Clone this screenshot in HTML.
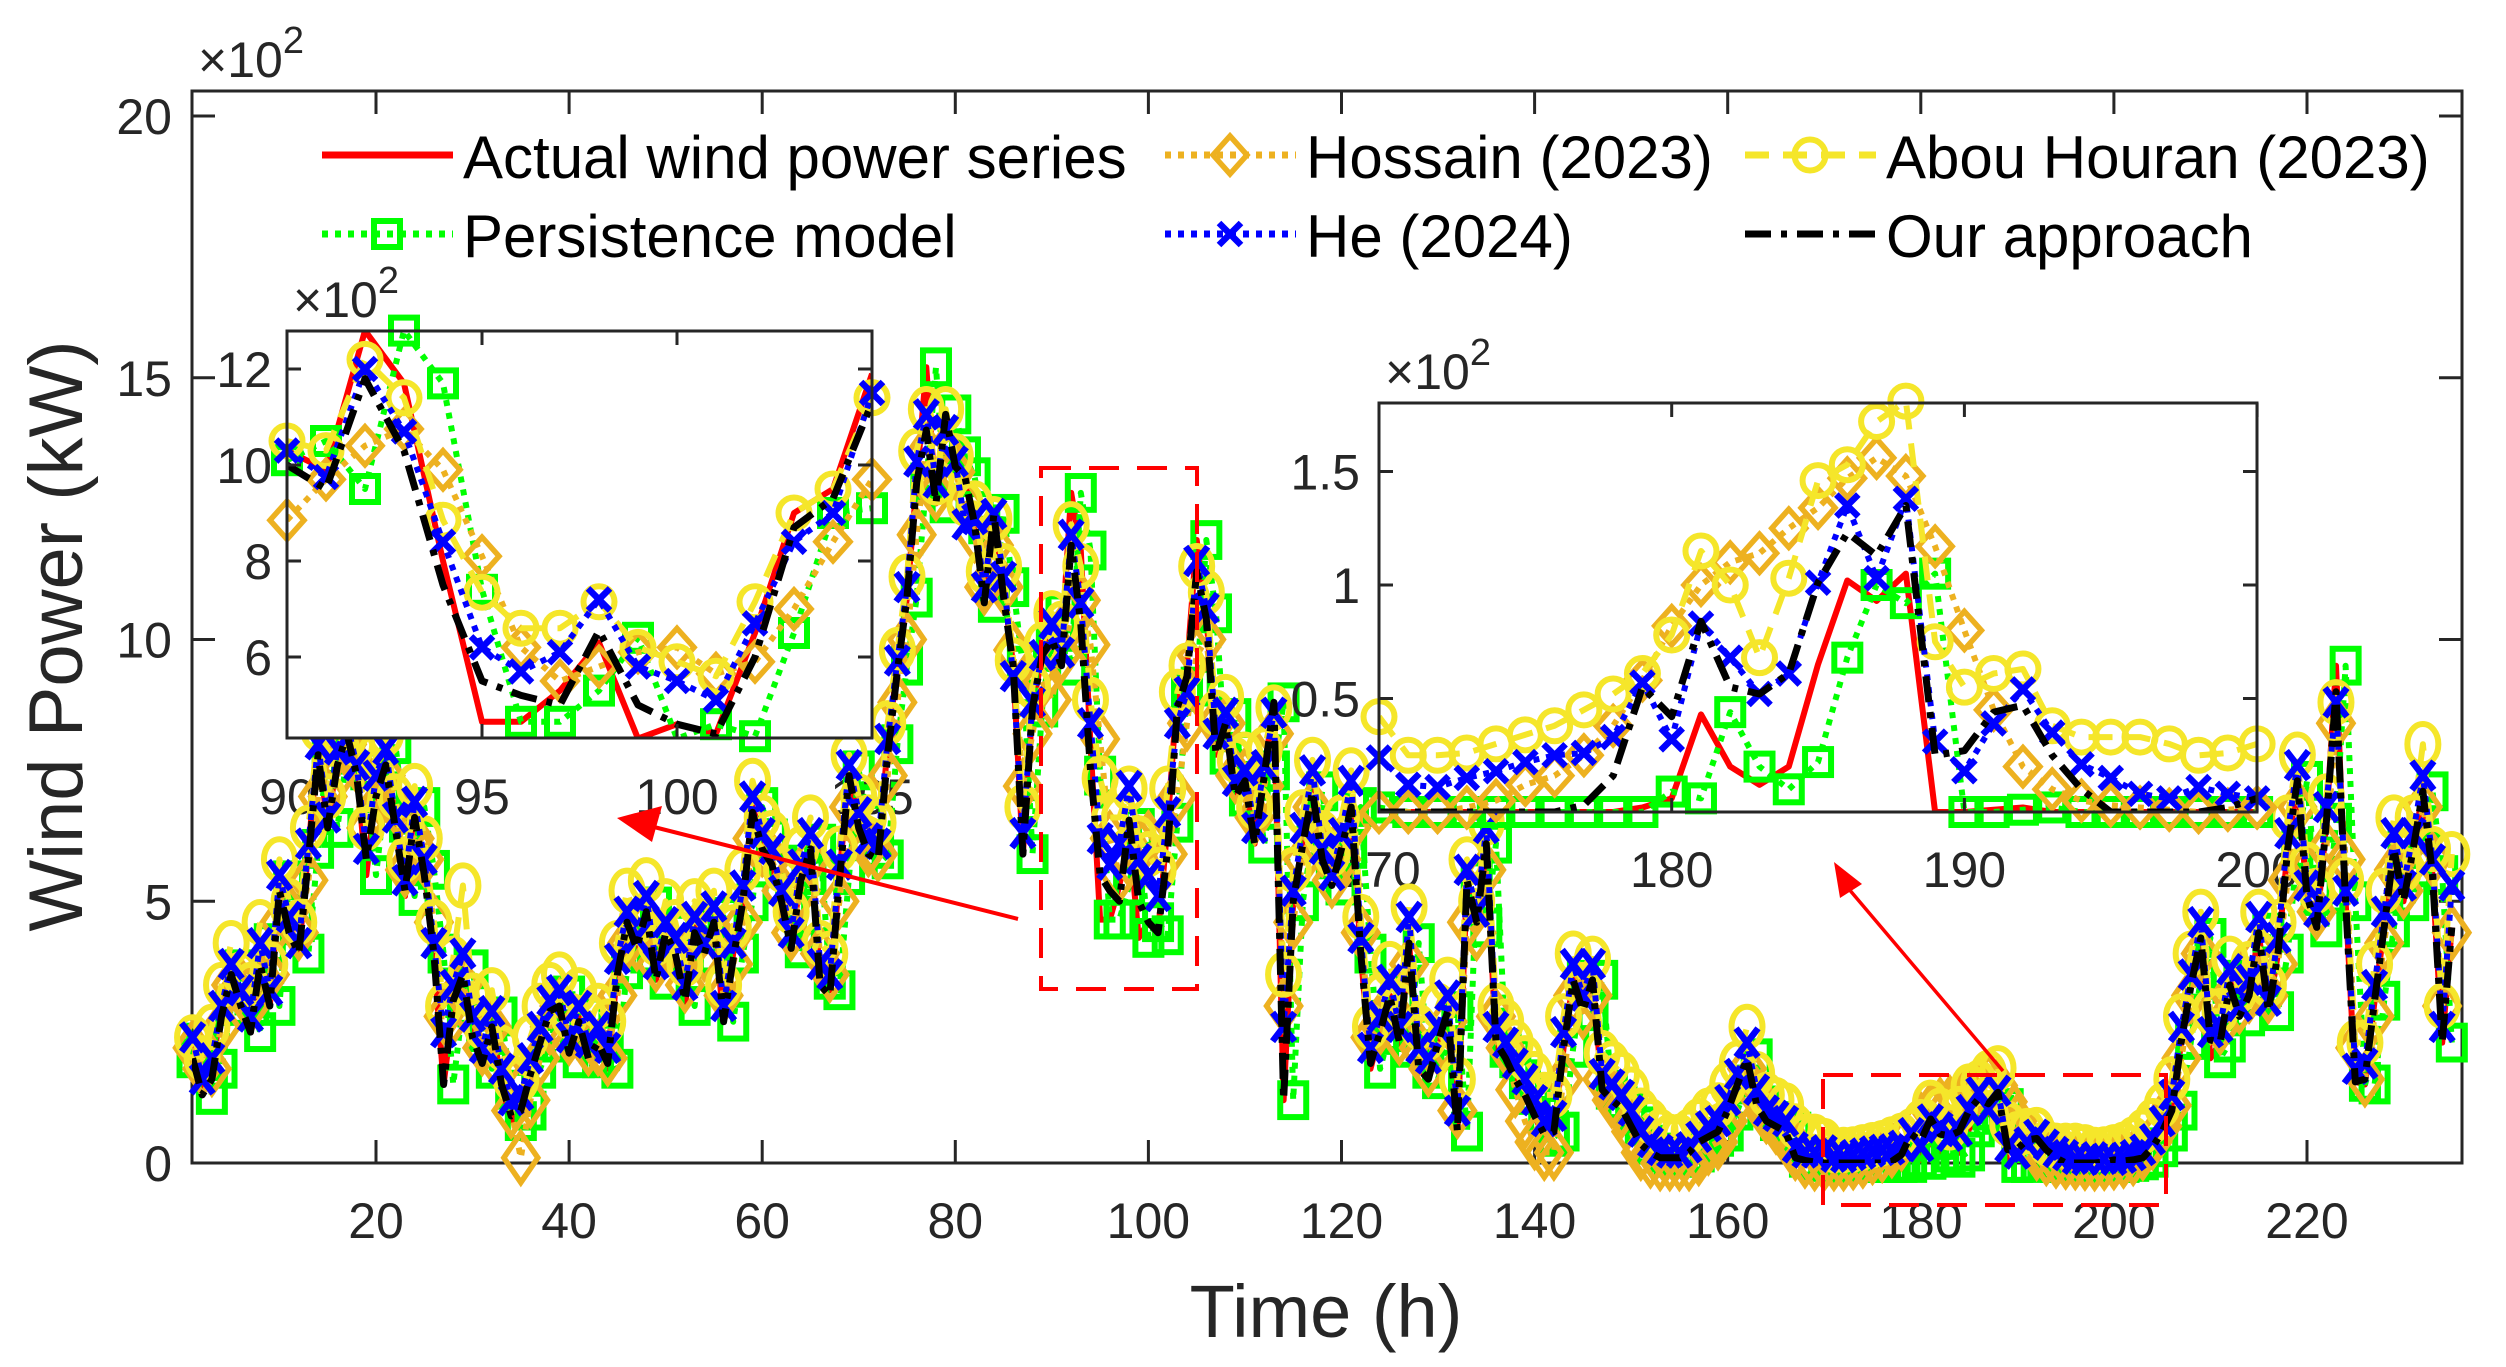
<!DOCTYPE html>
<html><head><meta charset="utf-8">
<style>
html,body{margin:0;padding:0;background:#fff;}
svg{display:block;font-family:"Liberation Sans",Arial,sans-serif;}
</style></head>
<body>
<svg id="chart" width="2506" height="1367" viewBox="0 0 2506 1367" xmlns="http://www.w3.org/2000/svg">
<defs>
<clipPath id="clipMain"><rect x="192" y="91" width="2270" height="1072"/></clipPath>
<clipPath id="clipIn1"><rect x="287" y="331" width="585" height="407"/></clipPath>
<clipPath id="clipIn2"><rect x="1379" y="403" width="878" height="409"/></clipPath>
</defs>
<rect width="2506" height="1367" fill="#fff"/>
<g id="mainAxes"></g>
<g id="in1Labels"></g>
<g id="in2Labels"></g>
<g id="mainData"></g>
<g>
<rect x="1041" y="468" width="156" height="521" fill="none" stroke="#ff0000" stroke-width="4" stroke-dasharray="30 18"/>
<rect x="1823" y="1075" width="343" height="130" fill="none" stroke="#ff0000" stroke-width="4" stroke-dasharray="30 18"/>
<line x1="1018" y1="919" x2="650" y2="826" stroke="#ff0000" stroke-width="4"/>
<polygon points="617,818 662,806 652,842" fill="#ff0000"/>
<line x1="2003" y1="1071" x2="1848" y2="888" stroke="#ff0000" stroke-width="3.5"/>
<polygon points="1834,862 1862,884 1840,898" fill="#ff0000"/>
</g>
<g id="inset1"></g>
<g id="inset2"></g>
<g id="legend"></g>
<g fill="#262626">
<text x="198" y="77" font-size="50">×10<tspan font-size="38" dy="-24">2</tspan></text>
<text x="293" y="317" font-size="50">×10<tspan font-size="38" dy="-24">2</tspan></text>
<text x="1385" y="389" font-size="50">×10<tspan font-size="38" dy="-24">2</tspan></text>
</g>
<text x="1326" y="1337" font-size="74" text-anchor="middle" fill="#262626">Time (h)</text>
<text x="0" y="0" font-size="76" text-anchor="middle" fill="#262626" transform="translate(82,636) rotate(-90)">Wind Power (kW)</text>
</svg>
<script>
const mainXTicks=[20,40,60,80,100,120,140,160,180,200,220];
const mainYTicks=[0,5,10,15,20];
const in1XTicks=[90,95,100,105];
const in1YTicks=[6,8,10,12];
const in2XTicks=[170,180,190,200];
const in2YTicks=[0.5,1,1.5];
const in2YLabels=["0.5","1","1.5"];
const hours=[];
for(let t=1;t<=235;t++) hours.push(t);
const actualPower=[2.3,1.3,1.8,3.0,3.7,3.2,2.5,4.2,3.0,5.4,
4.6,4.0,6.0,8.0,6.4,7.8,8.5,7.5,5.5,7.1,
8.0,6.5,5.1,6.8,5.6,4.0,1.5,3.0,3.7,2.5,
1.8,2.8,1.4,0.8,1.0,1.8,2.3,2.9,3.2,2.0,
2.8,2.0,2.3,1.8,3.7,4.6,4.0,4.9,3.5,4.4,
4.0,3.0,4.5,4.0,4.7,2.7,4.0,5.0,6.8,6.2,
5.7,5.0,4.1,5.5,6.1,3.5,3.3,5.5,7.5,6.5,
6.0,5.8,8.0,9.5,10.8,13.0,15.2,12.6,14.3,13.5,
13.1,12.2,10.7,12.4,11.0,9.5,5.9,8.7,9.7,10.3,
9.9,12.8,11.7,8.0,4.65,4.65,5.3,6.3,4.3,4.6,
4.4,6.5,9.0,9.5,11.9,10.5,7.8,8.5,7.0,7.3,
6.1,7.5,8.8,1.2,5.0,6.2,7.1,5.8,5.3,6.0,
6.8,4.0,1.8,2.5,3.2,2.2,4.2,1.8,1.6,2.2,
2.9,0.6,5.4,4.5,6.1,2.2,2.0,1.6,1.3,0.9,
0.5,0.6,2.2,3.5,2.9,3.5,1.4,1.2,1.0,0.7,
0.35,0.2,0.1,0.1,0.1,0.2,0.4,0.5,0.6,1.0,
1.5,2.0,1.1,0.8,0.7,0.6,0.1,0.05,0.02,0,
0,0,0,0,0,0,0,0,0.02,0.06,
0.43,0.2,0.12,0.2,0.65,1.02,0.93,1.05,0,0,
0.01,0.02,0,0,0,0,0,0,0,0,
0.02,0.05,0.1,0.3,0.6,1.0,2.35,3.5,4.3,2.0,
2.3,3.5,2.8,3.2,4.4,2.9,4.0,6.0,7.3,5.1,
4.5,6.5,9.5,5.0,1.55,1.5,3.1,4.5,6.0,5.0,
6.0,7.1,5.5,2.3,4.5];
const persistencePower=[2.0,2.3,1.3,1.8,3.0,3.7,3.2,2.5,4.2,3.0,
5.4,4.6,4.0,6.0,8.0,6.4,7.8,8.5,7.5,5.5,
7.1,8.0,6.5,5.1,6.8,5.6,4.0,1.5,3.0,3.7,
2.5,1.8,2.8,1.4,0.8,1.0,1.8,2.3,2.9,3.2,
2.0,2.8,2.0,2.3,1.8,3.7,4.6,4.0,4.9,3.5,
4.4,4.0,3.0,4.5,4.0,4.7,2.7,4.0,5.0,6.8,
6.2,5.7,5.0,4.1,5.5,6.1,3.5,3.3,5.5,7.5,
6.5,6.0,5.8,8.0,9.5,10.8,13.0,15.2,12.6,14.3,
13.5,13.1,12.2,10.7,12.4,11.0,9.5,5.9,8.7,10.1,
10.5,9.5,12.8,11.7,7.4,4.65,4.65,5.3,6.4,4.3,
4.6,4.35,6.5,9.0,9.1,11.9,10.5,7.8,8.5,7.0,
7.3,6.1,7.5,8.8,1.2,5.0,6.2,7.1,5.8,5.3,
6.0,6.8,4.0,1.8,2.5,3.2,2.2,4.2,1.8,1.6,
2.2,2.9,0.6,5.4,4.5,6.1,2.2,2.0,1.6,1.3,
0.9,0.5,0.6,2.2,3.5,2.9,3.5,1.4,1.2,1.0,
0.7,0.35,0.2,0.1,0.1,0.1,0.2,0.4,0.5,0.6,
1.0,1.5,2.0,1.1,0.8,0.7,0.6,0.1,0.05,0.02,
0,0,0,0,0,0,0,0,0,0.09,
0.06,0.44,0.2,0.1,0.22,0.68,1.0,0.92,1.05,0,
0,0.01,0.02,0,0,0,0,0,0,0,
0,0.02,0.05,0.1,0.3,0.6,1.0,2.35,3.5,4.3,
2.0,2.3,3.5,2.8,3.2,4.4,2.9,4.0,6.0,7.3,
5.1,4.5,6.5,9.5,5.0,1.55,1.5,3.1,4.5,6.0,
5.0,6.0,7.1,5.5,2.3];
const hossainPower=[2.2,1.8,1.8,2.6,3.4,3.4,3.0,3.6,3.6,4.6,
4.8,4.4,5.4,7.0,7.0,7.4,8.0,7.6,6.4,6.8,
7.4,6.8,5.6,6.2,5.8,4.6,2.8,2.8,3.4,2.8,
2.2,2.6,1.8,1.0,0.1,1.2,2.0,2.6,3.0,2.4,
2.6,2.2,2.2,2.0,3.2,4.2,4.2,4.6,3.8,4.2,
4.0,3.4,4.2,4.0,4.4,3.2,3.8,4.6,6.2,6.0,
5.8,5.2,4.4,5.2,5.8,4.0,3.6,5.0,6.8,6.4,
6.0,5.9,7.4,8.8,10.0,12.0,13.6,12.8,13.6,13.2,
12.6,12.0,11.0,11.8,11.0,9.8,7.2,8.2,9.2,8.85,
9.7,10.4,10.75,9.9,8.1,6.2,5.5,5.8,6.1,6.2,
5.65,5.9,7.0,8.4,9.7,10.0,8.4,8.4,7.4,7.4,
6.6,7.2,8.2,3.0,4.6,5.8,6.8,6.0,5.4,5.8,
6.4,4.4,2.4,2.6,3.0,2.4,3.8,2.2,1.8,2.2,
2.7,1.0,4.6,4.4,5.6,2.8,2.2,1.4,0.8,0.4,
0.2,0.2,1.6,3.2,2.9,3.2,1.6,1.2,1.0,0.6,
0.2,0.05,0.0,0.0,0.0,0.0,0.1,0.3,0.4,0.8,
1.2,1.8,1.3,0.9,0.7,0.6,0.2,0.05,0.0,0.0,
0.0,0.0,0.02,0.05,0.12,0.16,0.25,0.38,0.58,0.82,
1.0,1.1,1.14,1.25,1.34,1.47,1.56,1.48,1.17,0.8,
0.45,0.2,0.1,0.05,0.03,0.02,0.01,0.0,0.01,0.02,
0.05,0.1,0.2,0.4,0.7,1.1,2.0,3.2,4.0,2.8,
2.6,3.2,3.0,3.2,4.0,3.2,3.8,5.4,6.8,5.6,
4.8,6.0,8.4,5.8,2.2,1.6,2.8,4.2,5.6,5.2,
5.8,6.8,5.8,3.0,4.4];
const abouHouranPower=[2.4,2.0,2.6,3.4,4.2,3.6,3.4,4.6,3.8,5.8,
5.0,4.6,6.4,8.3,7.0,8.2,8.6,8.0,6.4,7.8,
8.2,7.0,5.8,7.2,6.2,4.6,3.0,3.9,5.3,3.2,
2.6,3.3,2.2,1.6,1.6,2.4,3.0,3.4,3.6,2.8,
3.3,2.8,3.0,2.7,4.2,5.2,4.6,5.4,4.2,5.0,
4.6,3.8,5.0,4.6,5.2,3.4,4.5,5.6,7.3,6.6,
6.3,5.6,4.8,6.0,6.6,4.2,4.0,6.0,7.8,7.0,
6.6,6.5,8.4,9.8,11.2,13.6,14.4,13.0,14.4,13.5,
12.6,12.6,11.3,12.3,11.4,9.6,6.8,9.1,9.9,10.5,
10.3,12.2,11.4,8.85,7.35,6.6,6.6,7.15,6.2,5.9,
5.6,7.15,9.0,9.5,11.4,10.9,8.6,8.9,7.7,7.8,
6.8,7.9,8.7,3.6,5.6,6.7,7.7,6.3,5.9,6.6,
7.5,4.7,2.6,3.2,3.8,3.0,4.9,2.6,2.4,3.0,
3.5,1.6,5.8,5.0,6.5,3.0,2.7,2.3,2.0,1.7,
1.3,1.3,2.8,4.0,3.4,3.9,2.1,1.9,1.7,1.4,
1.0,0.8,0.6,0.5,0.5,0.6,0.8,1.0,1.1,1.5,
1.9,2.6,1.7,1.3,1.2,1.1,0.7,0.5,0.5,0.42,
0.25,0.25,0.26,0.3,0.34,0.38,0.45,0.52,0.61,0.78,
1.15,1.0,0.68,1.03,1.46,1.53,1.72,1.81,0.75,0.55,
0.61,0.63,0.38,0.33,0.33,0.33,0.3,0.25,0.26,0.3,
0.35,0.45,0.6,0.8,1.1,1.6,2.8,4.0,4.8,2.9,
2.9,3.9,3.3,3.8,4.8,3.4,4.6,6.6,7.8,5.7,
5.2,7.0,8.8,5.4,2.3,2.3,3.8,5.2,6.6,5.6,
6.6,8.0,6.0,3.0,5.9];
const hePower=[2.4,1.6,2.0,3.0,3.8,3.3,2.8,4.2,3.3,5.5,
4.7,4.2,6.1,8.0,6.6,7.9,8.4,7.6,6.0,7.4,
7.9,6.6,5.4,6.9,5.8,4.2,2.5,3.4,4.0,2.8,
2.2,2.9,1.8,1.2,1.3,2.0,2.6,3.1,3.3,2.4,
3.0,2.3,2.6,2.2,3.9,4.8,4.3,5.1,3.8,4.6,
4.3,3.4,4.7,4.2,4.9,3.0,4.2,5.3,7.0,6.3,
6.0,5.2,4.4,5.7,6.3,3.8,3.6,5.7,7.6,6.7,
6.2,6.1,8.1,9.6,11.0,13.4,14.3,13.0,14.0,13.4,
12.2,12.3,11.0,12.4,11.2,9.3,6.3,8.8,9.7,10.3,
9.75,12.0,10.7,8.4,6.2,5.7,6.1,7.2,5.8,5.5,
5.1,6.7,8.4,9.0,11.5,10.6,8.2,8.6,7.3,7.5,
6.4,7.6,8.6,2.6,5.2,6.4,7.5,6.0,5.5,6.3,
7.3,4.3,2.2,2.8,3.5,2.6,4.7,2.2,2.0,2.6,
3.2,1.0,5.6,4.8,6.4,2.6,2.3,1.9,1.6,1.2,
0.8,0.9,2.5,3.8,3.2,3.8,1.7,1.5,1.3,1.0,
0.6,0.4,0.25,0.2,0.2,0.3,0.5,0.7,0.8,1.2,
1.7,2.3,1.4,1.0,0.9,0.8,0.3,0.2,0.2,0.24,
0.12,0.11,0.15,0.18,0.22,0.25,0.26,0.33,0.57,0.32,
0.83,0.68,0.52,0.61,1.01,1.35,1.03,1.38,0.31,0.18,
0.39,0.54,0.35,0.21,0.15,0.08,0.06,0.11,0.08,0.06,
0.1,0.15,0.25,0.45,0.8,1.3,2.6,3.6,4.6,2.5,
2.6,3.7,3.0,3.5,4.7,3.1,4.3,6.3,7.6,5.3,
4.8,6.8,8.8,5.2,1.8,1.9,3.4,4.8,6.3,5.3,
6.3,7.4,5.8,2.6,5.3];
const oursPower=[2.0,1.3,1.6,2.8,3.6,3.0,2.5,3.8,3.0,5.2,
4.4,4.0,5.8,7.8,6.4,7.6,8.2,7.4,5.8,7.0,
7.6,6.4,5.2,6.6,5.5,4.0,1.5,3.1,3.6,2.4,
1.9,2.6,1.5,0.9,1.0,1.7,2.3,2.9,3.0,2.1,
2.7,2.0,2.3,1.9,3.6,4.6,4.1,4.8,3.5,4.4,
4.0,3.1,4.4,4.0,4.6,2.7,3.9,5.0,6.7,6.0,
5.7,5.0,4.1,5.4,6.0,3.4,3.2,5.4,7.4,6.4,
5.9,5.8,7.8,9.4,10.8,13.0,14.0,12.6,14.3,13.3,
13.1,12.2,10.7,12.4,10.8,9.5,5.9,8.7,9.7,10.0,
9.5,11.8,10.3,7.5,5.5,5.2,5.0,6.55,5.0,4.6,
4.4,6.0,8.7,9.3,11.3,10.4,7.8,8.4,7.0,7.3,
6.1,7.4,8.8,1.2,5.0,6.1,7.1,5.8,5.3,6.0,
6.8,4.0,1.9,2.5,3.2,2.3,4.2,1.8,1.6,2.3,
2.9,0.6,5.4,4.6,6.1,2.3,2.0,1.6,1.3,0.9,
0.55,0.6,2.2,3.5,2.9,3.5,1.4,1.2,1.05,0.7,
0.36,0.2,0.1,0.1,0.1,0.2,0.4,0.5,0.6,1.0,
1.5,2.0,1.1,0.8,0.7,0.6,0.1,0.05,0.02,0,
0,0,0,0,0,0,0.03,0.16,0.55,0.42,
0.84,0.55,0.52,0.61,1.01,1.23,1.13,1.35,0.25,0.27,
0.44,0.47,0.25,0.1,0.0,0,0,0,0.02,0.06,
0.04,0.06,0.1,0.3,0.6,1.0,2.35,3.4,4.3,2.35,
2.3,3.4,2.8,3.2,4.4,2.9,4.0,6.0,7.3,5.1,
4.5,6.5,9.0,5.0,1.55,1.6,3.1,4.5,6.0,5.0,
6.0,7.1,5.5,2.3,4.5];

const NS="http://www.w3.org/2000/svg";
function mk(tag,attrs,parent){const e=document.createElementNS(NS,tag);for(const k in attrs)e.setAttribute(k,attrs[k]);parent.appendChild(e);return e;}

const mainX=t=>182.9+t*9.655, mainY=v=>1163-v*52.35;
const in1X=t=>287+(t-90)*39, in1Y=v=>369+(12-v)*48;
const in2X=t=>1379+(t-170)*29.27, in2Y=v=>812-v*227;

const seriesList=[
 {key:'actual',vals:actualPower,color:'#ff0000',w:6,dash:null,mk:null,label:'Actual wind power series'},
 {key:'persistence',vals:persistencePower,color:'#00ff00',w:6,dash:'6 7',mk:'sq',label:'Persistence model'},
 {key:'hossain',vals:hossainPower,color:'#EDB120',w:6,dash:'6 7',mk:'dia',label:'Hossain (2023)'},
 {key:'abou-houran',vals:abouHouranPower,color:'#F5E62A',w:6,dash:'24 14',mk:'circ',label:'Abou Houran (2023)'},
 {key:'he',vals:hePower,color:'#0000ff',w:6,dash:'6 7',mk:'x',label:'He (2024)'},
 {key:'ours',vals:oursPower,color:'#000000',w:7,dash:'26 10 6 10',mk:null,label:'Our approach'}
];

function drawMarker(g,type,x,y,color,ys){
  ys=ys||1;
  let e;
  if(type==='sq'){e=mk('rect',{x:x-13,y:y-13*ys,width:26,height:26*ys,fill:'none',stroke:color,'stroke-width':6},g);}
  else if(type==='dia'){e=mk('polygon',{points:`${x},${y-19*ys} ${x+17},${y} ${x},${y+19*ys} ${x-17},${y}`,fill:'none',stroke:color,'stroke-width':5.5},g);}
  else if(type==='circ'){e=mk('ellipse',{cx:x,cy:y,rx:15.5,ry:15.5*ys,fill:'none',stroke:color,'stroke-width':6},g);}
  else if(type==='x'){e=mk('path',{d:`M${x-11},${y-11*ys}L${x+11},${y+11*ys}M${x-11},${y+11*ys}L${x+11},${y-11*ys}`,stroke:color,'stroke-width':6.5,fill:'none'},g);}
  if(e){
    
    
  }
}

function drawSeries(parent,s,sx,sy,t0,t1,v0,v1,clip,prefix,ys){
  const g=mk('g',{},parent);
  
  
  const pts=[];
  hours.forEach((t,i)=>{if(t>=t0&&t<=t1)pts.push([sx(t),sy(s.vals[i]),s.vals[i]]);});
  const d=pts.map((p,i)=>(i?'L':'M')+p[0].toFixed(1)+','+p[1].toFixed(1)).join('');
  const attrs={d:d,fill:'none',stroke:s.color,'stroke-width':s.w,'stroke-linejoin':'round','clip-path':'url(#'+clip+')'};
  if(s.dash)attrs['stroke-dasharray']=s.dash;
  const p=mk('path',attrs,g);
  
  
  if(s.mk){pts.forEach(q=>{if(q[2]>=v0&&q[2]<=v1)drawMarker(g,s.mk,q[0],q[1],s.color,ys);});}
}

function drawAxes(g,x0,y0,x1,y1,xt,yt,sx,sy,tl,xlabs,ylabs,xLabY,yLabX,prefix){
  const box=mk('rect',{x:x0,y:y0,width:x1-x0,height:y1-y0,fill:'none',stroke:'#262626','stroke-width':3},g);
  
  
  xt.forEach((t,i)=>{
    const x=sx(t);
    const tk=mk('path',{d:`M${x},${y1}V${y1-tl}M${x},${y0}V${y0+tl}`,stroke:'#262626','stroke-width':3},g);
    
    
    if(xlabs){
      const tx=mk('text',{x:x,y:xLabY,'font-size':50,'text-anchor':'middle',fill:'#262626'},xlabs.g);
      tx.textContent=xlabs.txt[i];
      
      
    }
  });
  yt.forEach((v,i)=>{
    const y=sy(v);
    const tk=mk('path',{d:`M${x0},${y}H${x0+tl}M${x1},${y}H${x1-tl}`,stroke:'#262626','stroke-width':3},g);
    
    
    if(ylabs){
      const tx=mk('text',{x:yLabX,y:y+18,'font-size':50,'text-anchor':'end',fill:'#262626'},ylabs.g);
      tx.textContent=ylabs.txt[i];
      
      
    }
  });
}

const mainAxes=document.getElementById('mainAxes');
drawAxes(mainAxes,192,91,2462,1163,mainXTicks,mainYTicks,mainX,mainY,23,
  {g:mainAxes,txt:mainXTicks.map(String)},{g:mainAxes,txt:mainYTicks.map(String)},1238,172,'main');

const mainData=document.getElementById('mainData');
seriesList.forEach(s=>drawSeries(mainData,s,mainX,mainY,1,236,-0.5,20.5,'clipMain','main',1.3));

const in1=document.getElementById('inset1');
const bg1=mk('rect',{x:287,y:331,width:585,height:407,fill:'#fff'},in1);


seriesList.forEach(s=>drawSeries(in1,s,in1X,in1Y,90,105,4.31,12.8,'clipIn1','inset1',1));
drawAxes(in1,287,331,872,738,in1XTicks,in1YTicks,in1X,in1Y,14,
  {g:document.getElementById('in1Labels'),txt:in1XTicks.map(String)},
  {g:in1,txt:in1YTicks.map(String)},814,272,'inset1');

const in2=document.getElementById('inset2');
const bg2=mk('rect',{x:1379,y:403,width:878,height:409,fill:'#fff'},in2);


seriesList.forEach(s=>drawSeries(in2,s,in2X,in2Y,170,200,-0.05,1.85,'clipIn2','inset2',1));
drawAxes(in2,1379,403,2257,812,in2XTicks,in2YTicks,in2X,in2Y,14,
  {g:document.getElementById('in2Labels'),txt:in2XTicks.map(String)},
  {g:in2,txt:in2YLabels},887,1360,'inset2');

const legend=document.getElementById('legend');
const legendPos=[[322,155],[1165,155],[1745,155],[322,234],[1165,234],[1745,234]];
const legendOrder=['actual','hossain','abou-houran','persistence','he','ours'];
legendOrder.forEach((k,i)=>{
  const s=seriesList.find(q=>q.key===k);
  const [x,y]=legendPos[i];
  const g=mk('g',{},legend);
  
  
  const a={x1:x,y1:y,x2:x+131,y2:y,stroke:s.color,'stroke-width':7};
  if(s.dash)a['stroke-dasharray']=s.dash;
  const ln=mk('line',a,g);
  
  
  if(s.mk)drawMarker(g,s.mk,x+65,y,s.color,1);
  const tx=mk('text',{x:x+141,y:y+23,'font-size':60,fill:'#000'},g);
  tx.textContent=s.label;
  
  
});
</script>
</body></html>
